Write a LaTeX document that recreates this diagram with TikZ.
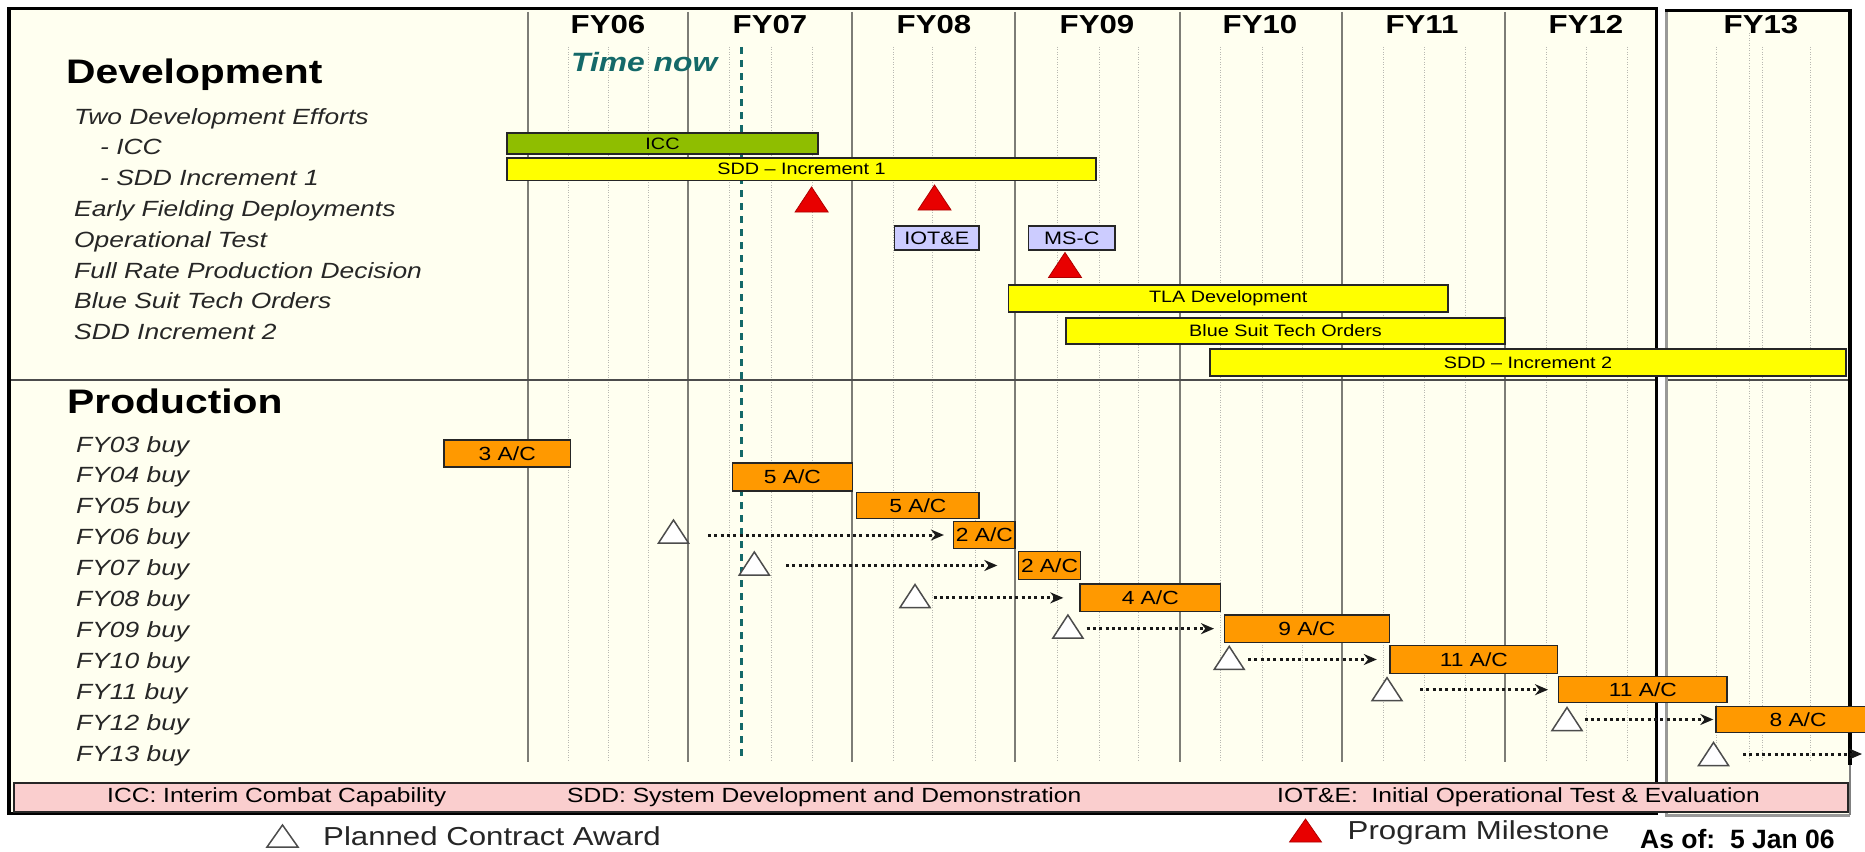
\documentclass[tikz,border=0pt]{standalone}
\usepackage{fontspec}
\setmainfont{Liberation Sans}[FakeStretch=1.2]
\newfontfamily\datefont{Liberation Sans}
\usetikzlibrary{arrows.meta}

\definecolor{cream}{RGB}{255,255,240}
\definecolor{iccgreen}{RGB}{143,190,0}
\definecolor{baryellow}{RGB}{255,255,0}
\definecolor{buyorange}{RGB}{255,153,0}
\definecolor{testlav}{RGB}{204,204,255}
\definecolor{mstred}{RGB}{232,0,0}
\definecolor{notepink}{RGB}{250,206,206}
\definecolor{nowteal}{RGB}{20,105,105}
\definecolor{yeargray}{RGB}{125,125,118}
\definecolor{qgray}{RGB}{185,185,178}

\newcommand\fsz[1]{\fontsize{#1}{#1}\selectfont}
% bar node given by its corners: name, x1, y1, x2, y2, style, text
\newcommand\gbar[7]{%
  \node[#6, minimum width={#4-#2}, minimum height={#5-#3}] (#1) at ({(#2+#4)/2},{(#3+#5)/2}) {#7};}
% triangle marker: name, cx, cy, width, height, style
\newcommand\trimark[6]{%
  \node[inner sep=0pt, outer sep=0pt, minimum width=#4, minimum height=#5] (#1) at (#2,#3) {};
  \draw[#6] (#1.south west) -- (#1.south east) -- (#1.north) -- cycle;}

\begin{document}
\begin{tikzpicture}[x=1pt, y=-1pt,
  yearline/.style={draw=yeargray, line width=1.3pt},
  qline/.style={draw=qgray, line width=1pt, dash pattern=on 1pt off 1.5pt},
  divider/.style={draw=black!70, line width=2pt},
  nowline/.style={draw=nowteal, line width=2.2pt, dash pattern=on 7pt off 6pt},
  nowlabel/.style={anchor=base west, inner sep=0pt, text=nowteal, font=\fsz{26.5}\bfseries\itshape},
  yearlabel/.style={anchor=base, inner sep=0pt, font=\fsz{26}\bfseries},
  heading/.style={anchor=base west, inner sep=0pt, font=\fsz{34}\bfseries},
  rowlabel/.style={anchor=base west, inner sep=0pt, text=black!85, font=\fsz{22}\itshape},
  devbar/.style={draw=black!85, line width=1.4pt, inner sep=0pt, font=\fsz{16.5}},
  iccbar/.style={devbar, fill=iccgreen},
  ylwbar/.style={devbar, fill=baryellow},
  testbox/.style={devbar, fill=testlav, font=\fsz{18}},
  buybar/.style={draw=black!85, line width=1.4pt, inner sep=0pt, fill=buyorange, font=\fsz{19}},
  milestone/.style={fill=mstred, draw=mstred!75!black, line width=0.8pt},
  award/.style={fill=white, draw=black!70, line width=1.5pt},
  buyarrow/.style={draw=black!90, line width=3pt, dash pattern=on 3pt off 3.3pt,
    -{Stealth[length=13pt,width=11pt]}},
  noteband/.style={draw=black!85, line width=1.5pt, fill=notepink, inner sep=0pt},
  notetext/.style={anchor=base west, inner sep=0pt, font=\fsz{20.5}},
  keytext/.style={anchor=base west, inner sep=0pt, text=black!85, font=\fsz{26}},
  datetext/.style={anchor=base west, inner sep=0pt, font=\datefont\fsz{26.5}\bfseries},
]
\useasboundingbox (0,0) rectangle (1865,851);
\fill[white] (0,0) rectangle (1865,851);

% chart areas
\fill[cream] (9,8) rectangle (1657,813);
\fill[cream] (1666,10) rectangle (1850,814);

% quarter grid
\foreach \x in {568,608,648, 729,771,812, 893,932,975, 1057,1099,1138,
                1220,1262,1302, 1383,1424,1465, 1546,1586,1627, 1716,1762,1810}
  \draw[qline] (\x,47) -- (\x,762);
\draw[qline] (1749,33) -- (1749,762);

% fiscal year boundaries
\foreach \x in {528,688,852,1015,1180,1342,1505}
  \draw[yearline] (\x,12) -- (\x,762);

% section divider
\draw[divider] (9,380) -- (1657,380);
\draw[divider] (1666,380) -- (1850,380);

% frames
\draw[line width=3.5pt] (9,8.3) rectangle (1656.5,813.5);
\draw[draw=black!40, line width=3pt] (1666.5,10.5) -- (1666.5,815.5) -- (1849.5,815.5);
\draw[line width=2.5pt] (1665,10.5) -- (1849.5,10.5);
\draw[line width=4pt] (1849.5,9) -- (1849.5,765);
\draw[draw=black!50, line width=2pt] (1849.5,765) -- (1849.5,815);

% current date marker
\draw[nowline] (741.5,47) -- (741.5,757);
\node[nowlabel] (now) at (571,71) {Time now};

% fiscal year labels
\foreach \lab/\cx in {FY06/608, FY07/770, FY08/934, FY09/1097, FY10/1260,
                      FY11/1422, FY12/1586, FY13/1761}
  \node[yearlabel] (\lab) at (\cx,34) {\lab};

% row headings
\node[heading] (devhead) at (66,84) {Development};
\node[heading] (prodhead) at (67,413) {Production};

\foreach \i/\t/\x in {0/Two Development Efforts/74, 1/- ICC/100, 2/- SDD Increment 1/100,
    3/Early Fielding Deployments/74, 4/Operational Test/74, 5/Full Rate Production Decision/74,
    6/Blue Suit Tech Orders/74, 7/SDD Increment 2/74}
  \node[rowlabel] (dev\i) at (\x,124+30.8*\i) {\t};

\foreach \i/\t in {0/FY03, 1/FY04, 2/FY05, 3/FY06, 4/FY07, 5/FY08, 6/FY09,
                   7/FY10, 8/FY11, 9/FY12, 10/FY13}
  \node[rowlabel] (buy\t) at (76,452+30.9*\i) {\t\ buy};

% development bars
\gbar{icc}{507}{133}{818}{154}{iccbar}{ICC}
\gbar{sddone}{507}{158}{1096}{180.5}{ylwbar}{SDD -- Increment 1}
\gbar{iote}{894.6}{226}{979}{250}{testbox}{IOT\&E}
\gbar{msc}{1028.5}{226}{1115}{250}{testbox}{MS-C}
\gbar{tla}{1008.5}{285}{1448}{312}{ylwbar}{TLA Development}
\gbar{bsto}{1066}{318}{1505}{344}{ylwbar}{Blue Suit Tech Orders}
\gbar{sddtwo}{1210}{349}{1846}{376}{ylwbar}{SDD -- Increment 2}

% program milestones
\trimark{msone}{811.6}{199.5}{33}{25}{milestone}
\trimark{mstwo}{934.5}{197.5}{33}{25}{milestone}
\trimark{msthree}{1065}{265}{33}{25}{milestone}

% production lots
\gbar{lot03}{444}{440}{570.5}{467}{buybar}{3 A/C}
\gbar{lot04}{732.6}{463}{852.2}{491}{buybar}{5 A/C}
\gbar{lot05}{856.7}{492.7}{979}{518.7}{buybar}{5 A/C}
\gbar{lot06}{953.6}{521.7}{1015}{548.3}{buybar}{2 A/C}
\gbar{lot07}{1018.7}{551.7}{1080.3}{579.3}{buybar}{2 A/C}
\gbar{lot08}{1080}{584}{1220.5}{611.7}{buybar}{4 A/C}
\gbar{lot09}{1224.5}{615}{1389.4}{642.3}{buybar}{9 A/C}
\gbar{lot10}{1390}{645.7}{1557.6}{673.3}{buybar}{11 A/C}
\gbar{lot11}{1558.7}{676.7}{1727}{702.7}{buybar}{11 A/C}
\gbar{lot12}{1716}{706.7}{1880}{732.3}{buybar}{8 A/C}

% planned contract awards
\trimark{aw06}{673.5}{531.5}{30}{23}{award}
\trimark{aw07}{754.3}{563.5}{30}{23}{award}
\trimark{aw08}{915}{596}{30}{23}{award}
\trimark{aw09}{1067.9}{626.5}{30}{23}{award}
\trimark{aw10}{1229.2}{657.9}{30}{23}{award}
\trimark{aw11}{1387}{689.2}{30}{23}{award}
\trimark{aw12}{1567}{719}{30}{23}{award}
\trimark{aw13}{1713.5}{754}{30}{23}{award}
\coordinate (lot13) at (1862,754);

\draw[buyarrow, shorten <=19.5pt, shorten >=9pt] (aw06.east |- lot06.west) -- (lot06.west);
\draw[buyarrow, shorten <=16.7pt, shorten >=20.7pt] (aw07.east |- lot07.west) -- (lot07.west);
\draw[buyarrow, shorten <=3.5pt, shorten >=16pt] (aw08.east |- lot08.west) -- (lot08.west);
\draw[buyarrow, shorten <=3.7pt, shorten >=9.8pt] (aw09.east |- lot09.west) -- (lot09.west);
\draw[buyarrow, shorten <=3.8pt, shorten >=12.5pt] (aw10.east |- lot10.west) -- (lot10.west);
\draw[buyarrow, shorten <=18pt, shorten >=10pt] (aw11.east |- lot11.west) -- (lot11.west);
\draw[buyarrow, shorten <=2.6pt, shorten >=2pt] (aw12.east |- lot12.west) -- (lot12.west);
\draw[buyarrow, shorten <=14.5pt] (aw13.east |- lot13) -- (lot13);

% abbreviations band
\gbar{band}{14}{783}{1848}{812}{noteband}{}
\node[notetext] (noteicc) at (107,802) {ICC: Interim Combat Capability};
\node[notetext] (notesdd) at (567,802) {SDD: System Development and Demonstration};
\node[notetext] (noteiote) at (1277,802) {IOT\&E:\ \ Initial Operational Test \& Evaluation};

% key
\trimark{keyaward}{282.5}{836}{31}{22}{award}
\node[keytext] (keyawardtxt) at (323,845) {Planned Contract Award};
\trimark{keyms}{1305.5}{830.5}{32}{23}{milestone}
\node[keytext] (keymstxt) at (1347.5,839.5) {Program Milestone};
\node[datetext] (asof) at (1640,848) {As of:\ \ 5 Jan 06};
\end{tikzpicture}
\end{document}
